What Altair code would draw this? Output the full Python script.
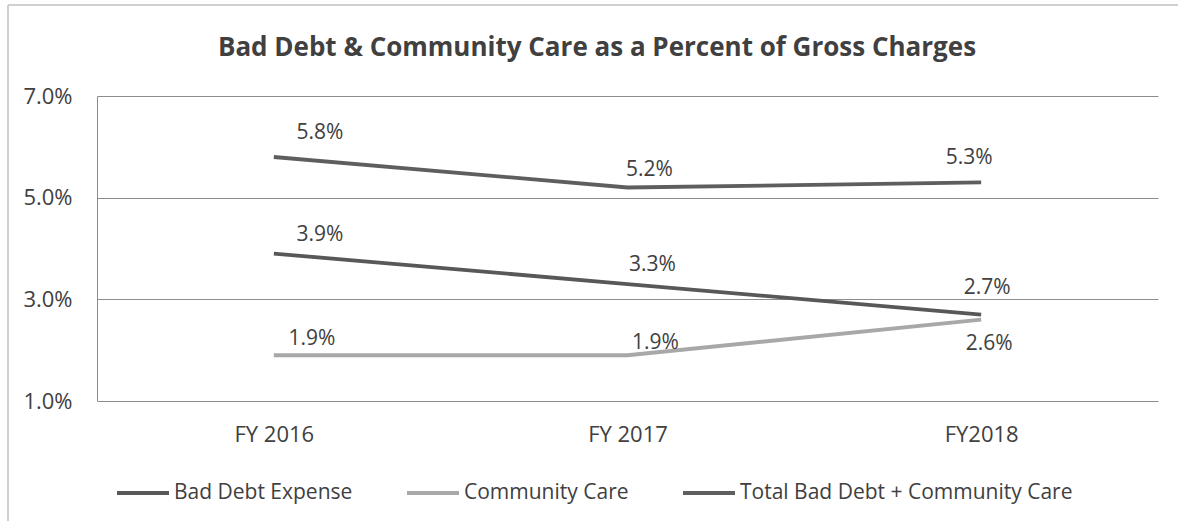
import altair as alt
import pandas as pd

# ---- data ----
years = ["FY 2016", "FY 2017", "FY2018"]
series_names = ["Bad Debt Expense", "Community Care", "Total Bad Debt + Community Care"]
bad_debt = [3.9, 3.3, 2.7]
community = [1.9, 1.9, 2.6]
total = [5.8, 5.2, 5.3]
y_ticks = [1.0, 3.0, 5.0, 7.0]
title_text = "Bad Debt & Community Care as a Percent of Gross Charges"

# ---- styling ----
colors = ["#585858", "#a8a8a8", "#5e5e5e"]
FONT = "Open Sans"
TEXT = "#404040"
# label offsets (dx, dy) per series per year
label_dx = [[46, 25, 6], [38, 28, 8], [46, 22, -12]]
label_dy = [[-19, -19, -27], [-16, -12, 24], [-24, -18, -24]]

rows = []
for name, vals in zip(series_names, [bad_debt, community, total]):
    for yr, v in zip(years, vals):
        rows.append({"year": yr, "value": v, "series": name,
                     "label": f"{v:.1f}%"})
df = pd.DataFrame(rows)

W, H = 1061, 305

x_enc = alt.X("year:N", sort=years,
              scale=alt.Scale(type="point", padding=0.5),
              axis=alt.Axis(title=None, labelAngle=0, domain=False, ticks=False,
                            grid=False, labelFontSize=22, labelColor=TEXT,
                            labelFont=FONT, labelPadding=23))
y_enc = alt.Y("value:Q",
              scale=alt.Scale(domain=[1, 7], nice=False, zero=False),
              axis=alt.Axis(title=None, values=y_ticks,
                            labelExpr="format(datum.value, '.1f') + '%'",
                            ticks=False, grid=True, gridColor="#8c8c8c",
                            gridWidth=1, domain=True, domainColor="#8c8c8c",
                            labelFontSize=22, labelColor=TEXT, labelFont=FONT,
                            labelPadding=25))

lines = alt.Chart(df).mark_line(strokeWidth=3.8, strokeCap="butt").encode(
    x=x_enc,
    y=y_enc,
    color=alt.Color("series:N",
                    scale=alt.Scale(domain=series_names, range=colors),
                    legend=alt.Legend(title=None, orient="none", legendX=18,
                                      legendY=369, direction="horizontal",
                                      symbolType="stroke", symbolStrokeWidth=4,
                                      symbolSize=2700, labelFontSize=21,
                                      labelFont=FONT, labelColor=TEXT,
                                      labelOffset=3, labelLimit=600,
                                      columnPadding=46)),
    order=alt.Order("year:N"),
)

layers = [lines]
for si, name in enumerate(series_names):
    for yi, yr in enumerate(years):
        sub = df[(df.series == name) & (df.year == yr)]
        layers.append(
            alt.Chart(sub).mark_text(fontSize=21, font=FONT, color=TEXT,
                                     baseline="middle", align="center",
                                     dx=label_dx[si][yi], dy=label_dy[si][yi])
            .encode(x=alt.X("year:N", sort=years), y="value:Q", text="label:N")
        )

deco = alt.Data(values=[{"t": title_text}])
title_mark = alt.Chart(deco).mark_text(fontSize=26, fontWeight="bold", font=FONT,
                                       color=TEXT, align="center",
                                       baseline="middle").encode(
    x=alt.value(500), y=alt.value(-48), text="t:N")
frame_left = alt.Chart(deco).mark_rule(color="#c0c0c0", strokeWidth=1.5).encode(
    x=alt.value(-89), y=alt.value(-91), y2=alt.value(425))
frame_top = alt.Chart(deco).mark_rule(color="#c0c0c0", strokeWidth=1.5).encode(
    x=alt.value(-89), x2=alt.value(1081), y=alt.value(-91))
layers += [title_mark, frame_left, frame_top]

chart = alt.layer(*layers).properties(
    width=W, height=H,
    autosize=alt.AutoSizeParams(type="none"),
    padding={"left": 97, "top": 96, "right": 20, "bottom": 120},
    background="white",
).configure_view(stroke=None)

chart.save("out.html", embed_options={"renderer": "svg", "actions": False})
